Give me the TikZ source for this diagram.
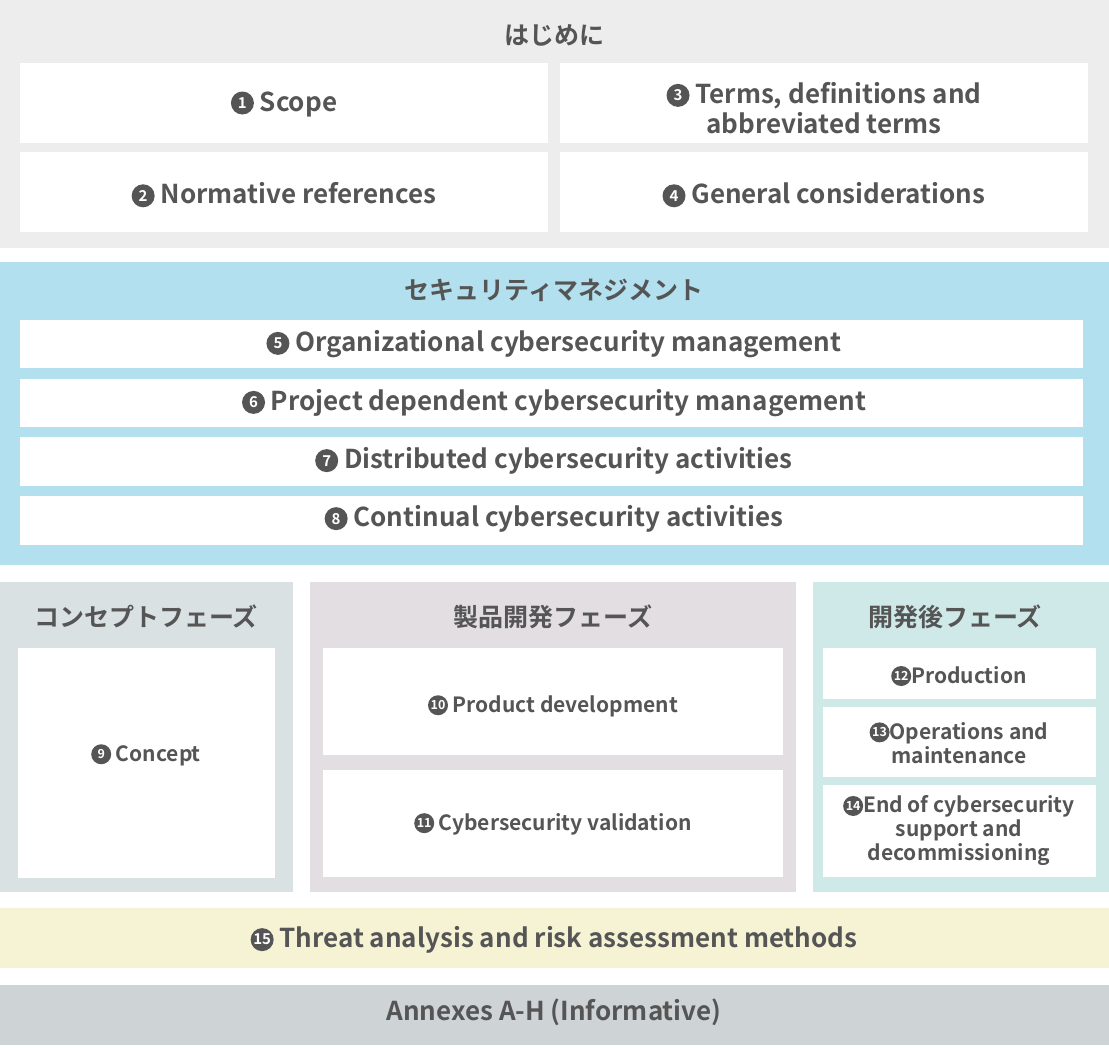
\documentclass[tikz,border=0pt]{standalone}
\usepackage{fontspec}
\setmainfont{Noto Sans CJK JP}[BoldFont={Noto Sans CJK JP Bold}]
\definecolor{txt}{HTML}{555555}
\definecolor{gbg}{HTML}{EDEDEE}
\definecolor{bbg}{HTML}{B3E0EF}
\definecolor{cbg}{HTML}{D9E1E3}
\definecolor{pbg}{HTML}{E2DEE2}
\definecolor{abg}{HTML}{CEE9E7}
\definecolor{ybg}{HTML}{F6F3D5}
\definecolor{nbg}{HTML}{CED4D6}
\newcommand{\cnum}[1]{\tikz[baseline=-8pt]\node[circle,fill=txt,text=white,inner sep=0pt,minimum size=23pt,font=\fontsize{15}{15}\selectfont\bfseries]{#1};}
\newcommand{\cnumS}[1]{\tikz[baseline=-7pt]\node[circle,fill=txt,text=white,inner sep=0pt,minimum size=20pt,font=\fontsize{12.5}{12.5}\selectfont\bfseries]{#1};}
\begin{document}
\begin{tikzpicture}[x=1pt,y=-1pt,
  box/.style={fill=white,draw=none},
  lab/.style={text=txt,font=\fontsize{26}{30}\selectfont\bfseries,align=center},
  slab/.style={text=txt,font=\fontsize{21}{24}\selectfont\bfseries,align=center},
  ttl/.style={text=txt,font=\fontsize{25}{30}\selectfont\bfseries}]
\useasboundingbox (0,0) rectangle (1109,1050);
% top
\fill[gbg] (0,0) rectangle (1109,248);
\node[ttl] (t1) at (554,35) {はじめに};
\fill[box] (20,63) rectangle (548,143); \node[lab] (s1) at (284,104) {\cnum{1} Scope};
\fill[box] (560,63) rectangle (1088,143); \node[lab] (s3) at (824,108) {\cnum{3} Terms, definitions and\\abbreviated terms};
\fill[box] (20,152) rectangle (548,232); \node[lab] (s2) at (284,195) {\cnum{2} Normative references};
\fill[box] (560,152) rectangle (1088,232); \node[lab] (s4) at (824,195) {\cnum{4} General considerations};
% blue
\fill[bbg] (0,262) rectangle (1109,565);
\node[ttl] (t2) at (554,290) {セキュリティマネジメント};
\fill[box] (20,320) rectangle (1083,368); \node[lab] (s5) at (554,344) {\cnum{5} Organizational cybersecurity management};
\fill[box] (20,379) rectangle (1083,427); \node[lab] (s6) at (554,403) {\cnum{6} Project dependent cybersecurity management};
\fill[box] (20,437) rectangle (1083,486); \node[lab] (s7) at (554,461) {\cnum{7} Distributed cybersecurity activities};
\fill[box] (20,496) rectangle (1083,545); \node[lab] (s8) at (554,519) {\cnum{8} Continual cybersecurity activities};
% phases
\fill[cbg] (0,582) rectangle (293,892);
\node[ttl] (t3) at (146,617) {コンセプトフェーズ};
\fill[box] (18,648) rectangle (275,878); \node[slab] (s9) at (146,755) {\cnumS{9} Concept};
\fill[pbg] (310,582) rectangle (796,892);
\node[ttl] (t4) at (553,617) {製品開発フェーズ};
\fill[box] (323,648) rectangle (783,755); \node[slab] (s10) at (553,706) {\cnumS{10} Product development};
\fill[box] (323,770) rectangle (783,877); \node[slab] (s11) at (553,824) {\cnumS{11} Cybersecurity validation};
\fill[abg] (813,582) rectangle (1109,892);
\node[ttl] (t5) at (955,617) {開発後フェーズ};
\fill[box] (823,648) rectangle (1096,699); \node[slab] (s12) at (959,676) {\cnumS{12}Production};
\fill[box] (823,707) rectangle (1096,777); \node[slab] (s13) at (959,743) {\cnumS{13}Operations and\\maintenance};
\fill[box] (823,785) rectangle (1096,877); \node[slab] (s14) at (959,831) {\cnumS{14}End of cybersecurity\\support and\\decommissioning};
% bottom
\fill[ybg] (0,908) rectangle (1109,968);
\node[lab] (s15) at (554,940) {\cnum{15} Threat analysis and risk assessment methods};
\fill[nbg] (0,985) rectangle (1109,1045);
\node[lab] (ann) at (554,1012) {Annexes A-H (Informative)};
\end{tikzpicture}
\end{document}
